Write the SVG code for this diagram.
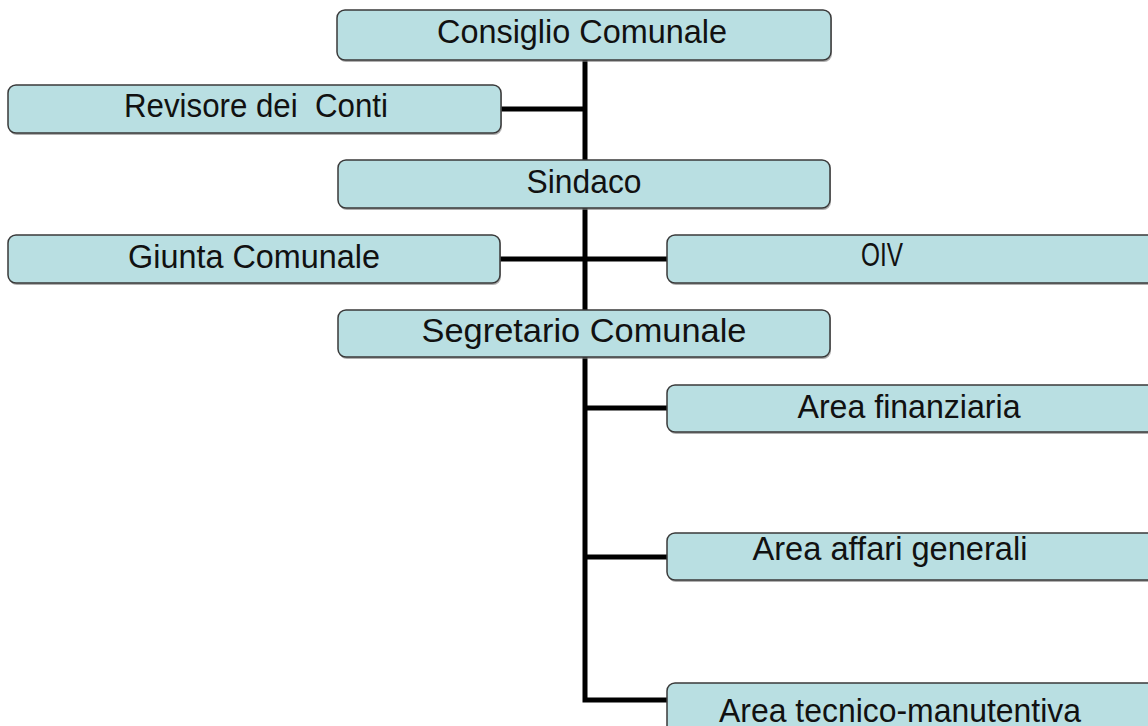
<svg xmlns="http://www.w3.org/2000/svg" width="1148" height="726" viewBox="0 0 1148 726">
<style>
.box{fill:#b9dfe2;stroke:#3a3a3a;stroke-width:1.5}
.sh{fill:#7a7a7a;opacity:0.6}
.t{font-family:"Liberation Sans",Arial,sans-serif;font-size:33px;fill:#111;text-anchor:middle}
.c{stroke:#000;stroke-width:5;fill:none;stroke-linecap:square}
</style>
<rect width="1148" height="726" fill="#fff"/>
<g id="connectors">
<path class="c" d="M585 60V160M501 109H585M585 208V310M500 259H667M585 357V700H667M585 408H667M585 557H667"/>
</g>
<g id="consiglio">
<rect class="sh" x="338" y="12" width="494" height="50" rx="8"/>
<rect class="box" x="337" y="10" width="494" height="50" rx="8"/>
<text class="t" x="582" y="43" textLength="290" lengthAdjust="spacingAndGlyphs">Consiglio Comunale</text>
</g>
<g id="revisore">
<rect class="sh" x="9" y="87" width="493" height="48" rx="8"/>
<rect class="box" x="8" y="85" width="493" height="48" rx="8"/>
<text class="t" x="256" y="117" textLength="264" lengthAdjust="spacingAndGlyphs" xml:space="preserve">Revisore dei  Conti</text>
</g>
<g id="sindaco">
<rect class="sh" x="339" y="162" width="492" height="48" rx="8"/>
<rect class="box" x="338" y="160" width="492" height="48" rx="8"/>
<text class="t" x="584" y="193" textLength="115" lengthAdjust="spacingAndGlyphs">Sindaco</text>
</g>
<g id="giunta">
<rect class="sh" x="9" y="237" width="492" height="48" rx="8"/>
<rect class="box" x="8" y="235" width="492" height="48" rx="8"/>
<text class="t" x="254" y="268" textLength="252" lengthAdjust="spacingAndGlyphs">Giunta Comunale</text>
</g>
<g id="oiv">
<rect class="sh" x="668" y="237" width="500" height="48" rx="8"/>
<rect class="box" x="667" y="235" width="500" height="48" rx="8"/>
<text class="t" x="882" y="266" textLength="42" lengthAdjust="spacingAndGlyphs">OIV</text>
</g>
<g id="segretario">
<rect class="sh" x="339" y="312" width="492" height="47" rx="8"/>
<rect class="box" x="338" y="310" width="492" height="47" rx="8"/>
<text class="t" x="584" y="342" textLength="325" lengthAdjust="spacingAndGlyphs">Segretario Comunale</text>
</g>
<g id="finanziaria">
<rect class="sh" x="668" y="387" width="500" height="47" rx="8"/>
<rect class="box" x="667" y="385" width="500" height="47" rx="8"/>
<text class="t" x="909" y="418" textLength="223" lengthAdjust="spacingAndGlyphs">Area finanziaria</text>
</g>
<g id="affari">
<rect class="sh" x="668" y="535" width="500" height="47" rx="8"/>
<rect class="box" x="667" y="533" width="500" height="47" rx="8"/>
<text class="t" x="890" y="560" textLength="275" lengthAdjust="spacingAndGlyphs">Area affari generali</text>
</g>
<g id="tecnico">
<rect class="sh" x="668" y="685" width="500" height="60" rx="8"/>
<rect class="box" x="667" y="683" width="500" height="60" rx="8"/>
<text class="t" x="900" y="722" textLength="362" lengthAdjust="spacingAndGlyphs">Area tecnico-manutentiva</text>
</g>
</svg>
